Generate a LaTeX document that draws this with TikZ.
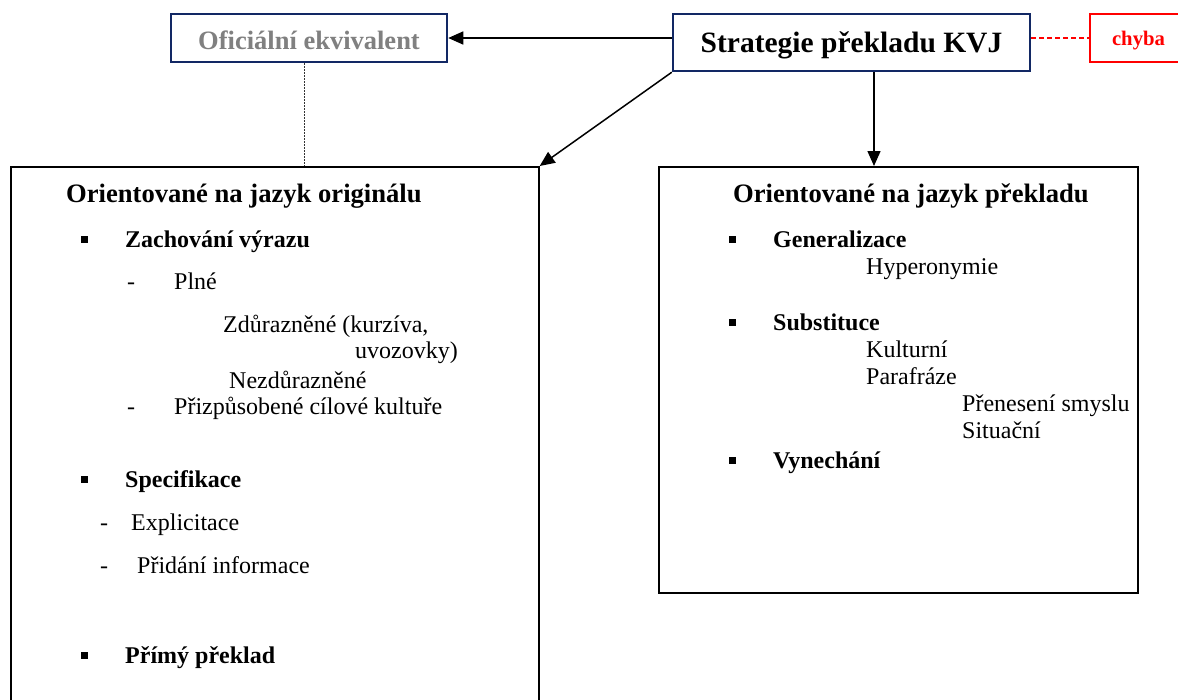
\documentclass[tikz,border=0pt]{standalone}
\usepackage{fontspec}
\setmainfont{Liberation Serif}
\usetikzlibrary{arrows.meta}
\definecolor{navy}{RGB}{18,40,100}
\definecolor{greytext}{RGB}{128,128,128}
\begin{document}
\begin{tikzpicture}[x=1pt,y=-1pt,
  body/.style={anchor=base west, inner sep=0pt, font=\fontsize{24}{28}\selectfont},
  bodyb/.style={anchor=base west, inner sep=0pt, font=\fontsize{24}{28}\selectfont\bfseries},
  head/.style={anchor=base west, inner sep=0pt, font=\fontsize{26.6}{32}\selectfont\bfseries},
  sqbullet/.style={fill=black, inner sep=0pt, minimum size=7pt},
  panel/.style={draw=black, line width=1.7pt, anchor=north west, inner sep=0pt},
  topbox/.style={line width=2.5pt, fill=white, inner sep=0pt, text depth=0pt},
  arr/.style={-{Triangle[length=15pt,width=13pt]}, line width=1.5pt}
]
\clip (0,0) rectangle (1178,699);
\fill[white] (0,0) rectangle (1178,699);

% panels
\node[panel, minimum width=528pt, minimum height=560pt] (left) at (10,166) {};
\node[panel, minimum width=479pt, minimum height=426pt] (right) at (658,166) {};

% top boxes
\node[topbox, draw=navy, text=greytext, minimum width=276pt, minimum height=48pt, text height=22pt,
      font=\fontsize{26.5}{30}\selectfont\bfseries] (ofic) at (309,38) {Oficiální ekvivalent};
\node[topbox, draw=navy, text=black, minimum width=357pt, minimum height=57pt, text height=19pt,
      font=\fontsize{29.5}{34}\selectfont\bfseries] (strat) at (851.5,42.5) {Strategie překladu KVJ};
\node[topbox, draw=red, text=red, minimum width=97pt, minimum height=48pt, text height=14pt,
      font=\fontsize{20.7}{24}\selectfont\bfseries] (chyba) at (1138.5,38) {chyba};

% connectors
\draw[arr] (strat.west |- ofic.east) -- (ofic.east);
\draw[red, line width=1.2pt, dash pattern=on 5pt off 3pt] (strat.east |- chyba.west) -- (chyba.west);
\coordinate (dotTop) at ([xshift=-5pt]ofic.south);
\draw[black!80, line width=0.8pt, dash pattern=on 1.5pt off 1.5pt] (dotTop) -- (dotTop |- left.north);
\draw[arr] (strat.south west) -- (left.north east);
\coordinate (vTop) at ([xshift=22.5pt]strat.south);
\draw[arr] (vTop) -- (vTop |- right.north);

% left panel content
\node[head] (lh) at (66,202) {Orientované na jazyk originálu};
\node[sqbullet] (lb1) at (84,239) {};
\node[bodyb] (l1) at (125,247) {Zachování výrazu};
\node[body] (ld1) at (127,289) {-};
\node[body] (l11) at (174,289) {Plné};
\node[body] (l111) at (223,332) {Zdůrazněné (kurzíva,};
\node[body] (l112) at (355,358) {uvozovky)};
\node[body] (l113) at (229,388) {Nezdůrazněné};
\node[body] (ld2) at (127,414) {-};
\node[body] (l12) at (174,414) {Přizpůsobené cílové kultuře};
\node[sqbullet] (lb2) at (84,479) {};
\node[bodyb] (l2) at (125,487) {Specifikace};
\node[body] (ld3) at (100,530) {-};
\node[body] (l21) at (131,530) {Explicitace};
\node[body] (ld4) at (100,573) {-};
\node[body] (l22) at (137,573) {Přidání informace};
\node[sqbullet] (lb3) at (84,655) {};
\node[bodyb] (l3) at (125,663) {Přímý překlad};

% right panel content
\node[head] (rh) at (733,202) {Orientované na jazyk překladu};
\node[sqbullet] (rb1) at (732,239) {};
\node[bodyb] (r1) at (773,247) {Generalizace};
\node[body] (r11) at (866,274) {Hyperonymie};
\node[sqbullet] (rb2) at (732,322) {};
\node[bodyb] (r2) at (773,330) {Substituce};
\node[body] (r21) at (866,357) {Kulturní};
\node[body] (r22) at (866,384) {Parafráze};
\node[body] (r221) at (962,411) {Přenesení smyslu};
\node[body] (r222) at (962,438) {Situační};
\node[sqbullet] (rb3) at (732,460) {};
\node[bodyb] (r3) at (773,468) {Vynechání};
\end{tikzpicture}
\end{document}
